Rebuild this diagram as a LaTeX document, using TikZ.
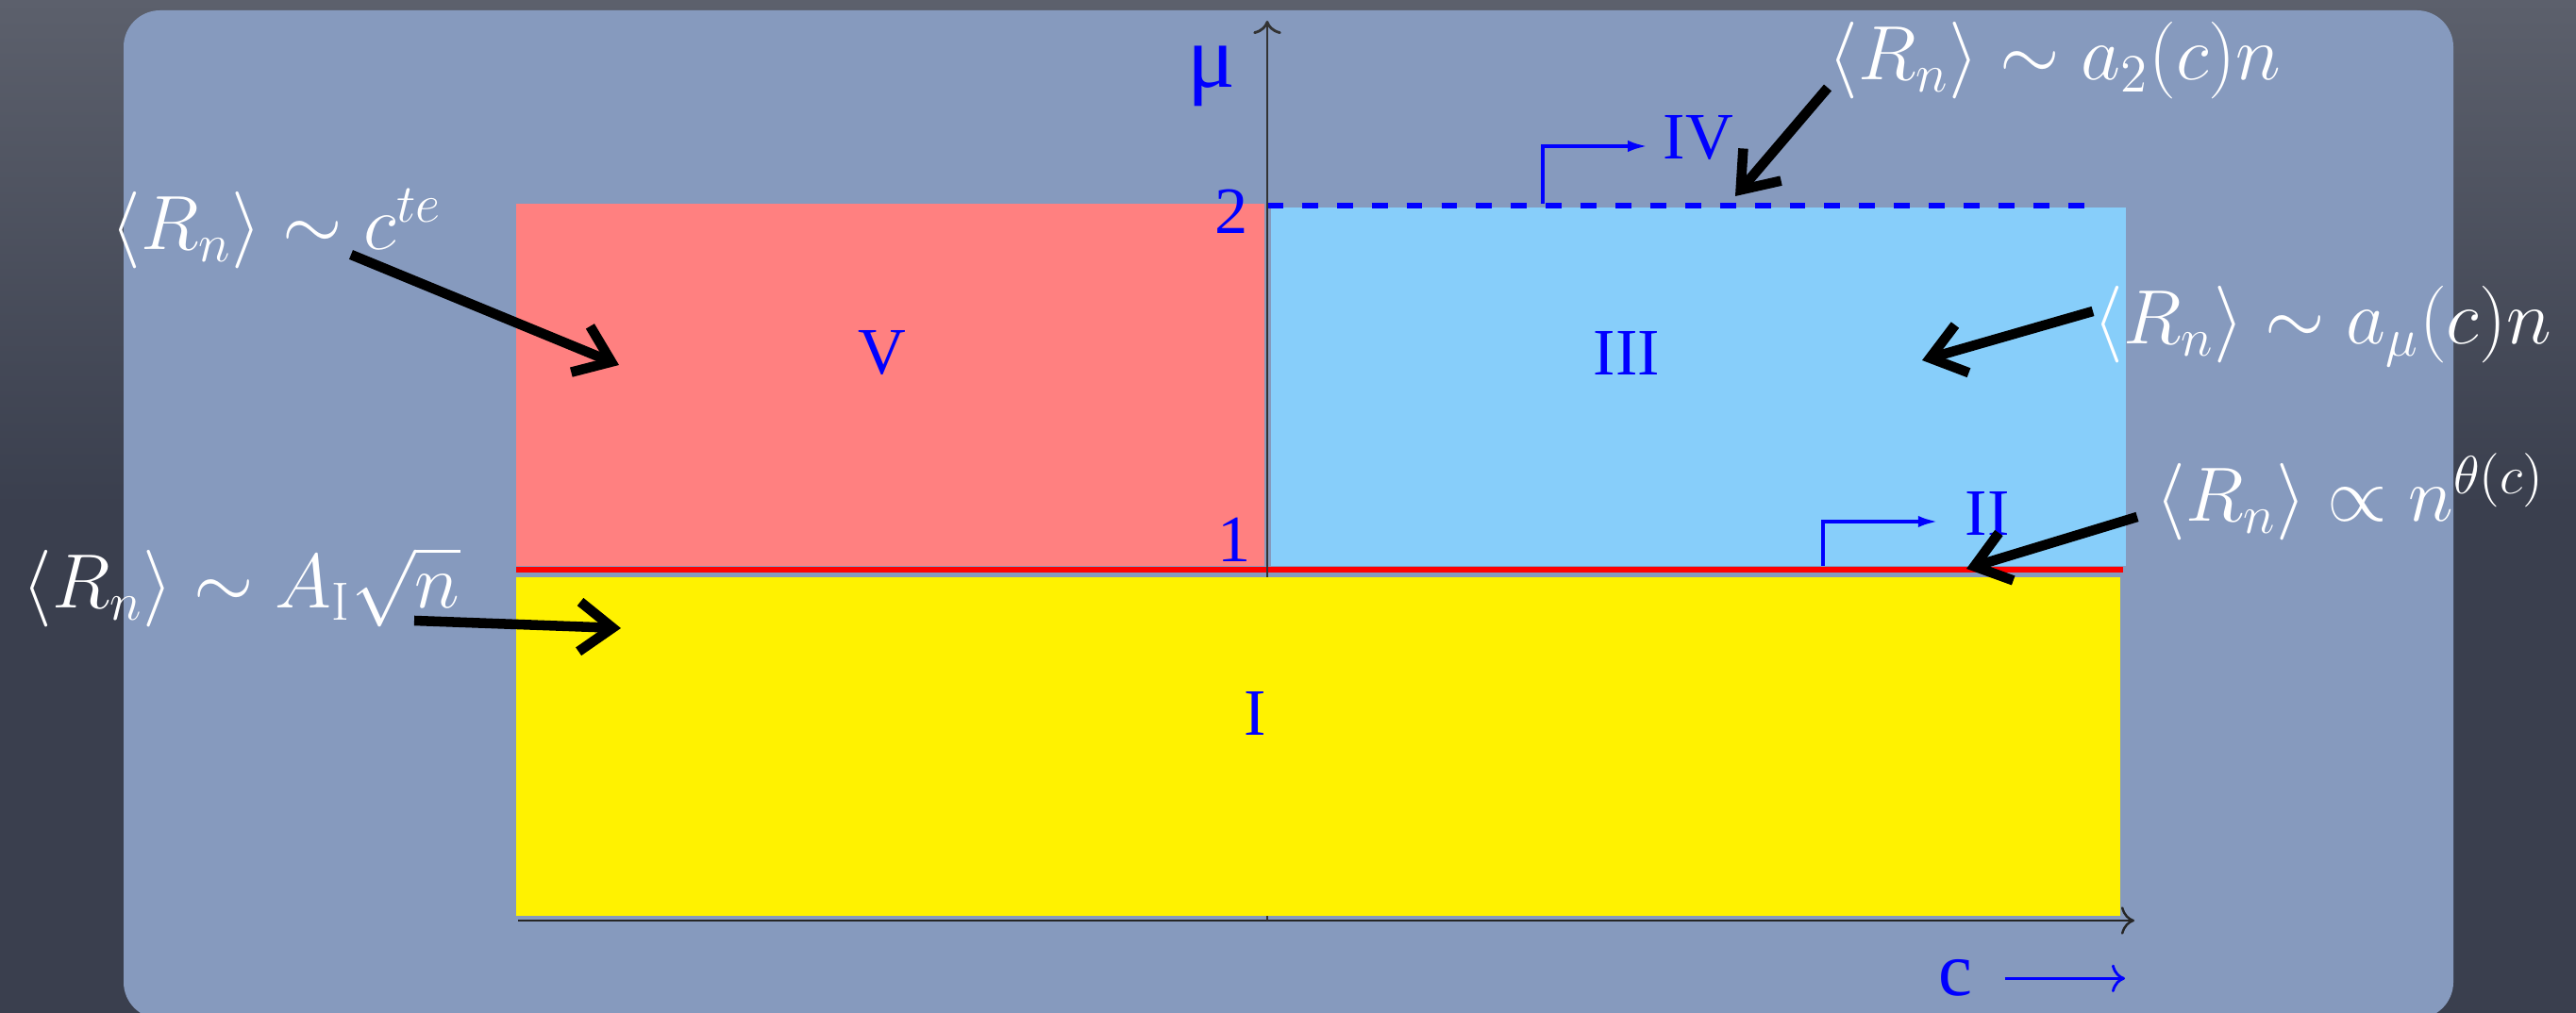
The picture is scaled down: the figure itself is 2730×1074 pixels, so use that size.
\RequirePackage{fix-cm}
\documentclass[tikz,border=0pt]{standalone}
\usepackage{amsmath,amssymb}
\usepackage{fontspec}
\newfontfamily\lblfont{Liberation Serif}
\usepackage{tikz}
\usetikzlibrary{arrows.meta}
\definecolor{slate}{RGB}{58,63,78}
\definecolor{slatetop}{RGB}{92,96,108}
\definecolor{panelblue}{RGB}{134,154,190}
\definecolor{regVred}{RGB}{255,128,128}
\definecolor{regIIIblue}{RGB}{135,206,250}

\begin{document}
\begin{tikzpicture}[x=0.1mm,y=-0.1mm,
  region/.style={blue,inner sep=0pt,font=\lblfont\fontsize{20}{24}\selectfont},
  law/.style={white,inner sep=0pt,anchor=base west,font=\fontsize{23.2}{28}\selectfont},
  hand/.style={black,line width=3pt,-{Straight Barb[length=10pt,width=15pt]}},
  jump/.style={blue,line width=1.1pt,-{Latex[length=6pt,width=3.5pt]}}]
% ---------- slide background ----------
\shade[top color=slatetop,bottom color=slate,middle color=slate] (0,0) rectangle (2730,1074);
\useasboundingbox (0,0) rectangle (2730,1074);
\fill[panelblue,rounded corners=11pt] (131,11) rectangle (2600,1080);
% ---------- phases ----------
\fill[regVred] (547,216) rectangle (1340,600);
\fill[regIIIblue] (1347,220) rectangle (2253,600);
\draw[red,line width=1.6pt] (547,604) -- (2250,604);
\draw[blue,line width=1.5pt,dash pattern=on 4.8pt off 5.7pt] (1343,218) -- (2228,218);
% axes
\draw[black!85,line width=0.7pt,-{To[length=4pt]}] (549,976) -- (2262,976);
\draw[black!80,line width=0.8pt,-{To[length=4pt]}] (1343,976) -- (1343,22);
\fill[yellow] (547,612) rectangle (2247,971);
% ---------- labels ----------
\node[region] (labV) at (935,374) {V};
\node[region] (labIII) at (1724,374) {III};
\node[region] (labI) at (1330,756) {I};
\node[region] (labIV) at (1800,146) {IV};
\node[region] (labII) at (2106,544) {II};
\node[region,anchor=east] (lab2) at (1323,224) {2};
\node[region,anchor=east] (lab1) at (1326,572) {1};
\node[region,anchor=base,font=\lblfont\fontsize{27}{30}\selectfont] (labmu) at (1284,93) {μ};
\node[region,anchor=base,font=\lblfont\fontsize{23}{28}\selectfont] (labc) at (2072,1056) {c};
\coordinate (cend) at (2252,1042);
\draw[blue,line width=0.8pt,-{To[length=4pt]}] ([shift={(34,0)}]labc.east) -- (labc.east -| cend);
\coordinate (ivfoot) at (1635,216);
\draw[jump] (ivfoot) |- ([shift={(-16,9)}]labIV.west);
\coordinate (iifoot) at (1932,600);
\draw[jump] (iifoot) |- ([shift={(-28,9)}]labII.west);
% ---------- asymptotics ----------
\node[law] (lawV) at (117,265) {$\langle R_n\rangle \sim c^{te}$};
\node[law] (lawI) at (23,645) {$\langle R_n\rangle \sim A_{\mathrm{I}}\sqrt{n}$};
\node[law] (lawIV) at (1937,85) {$\langle R_n\rangle \sim a_2(c)n$};
\node[law] (lawIII) at (2218,365) {$\langle R_n\rangle \sim a_\mu(c)n$};
\node[law] (lawII) at (2284,553) {$\langle R_n\rangle \propto n^{\theta(c)}$};
\coordinate (a1s) at (372,270); \coordinate (a1e) at (656,387);
\coordinate (a2s) at (439,658); \coordinate (a2e) at (658,666);
\coordinate (a3s) at (1937,93); \coordinate (a3e) at (1839,208);
\coordinate (a4s) at (2218,330); \coordinate (a4e) at (2037,382);
\coordinate (a5s) at (2265,548); \coordinate (a5e) at (2084,603);
\draw[hand] (a1s) -- (a1e);
\draw[hand] (a2s) -- (a2e);
\draw[hand] (a3s) -- (a3e);
\draw[hand] (a4s) -- (a4e);
\draw[hand] (a5s) -- (a5e);
\end{tikzpicture}
\end{document}
